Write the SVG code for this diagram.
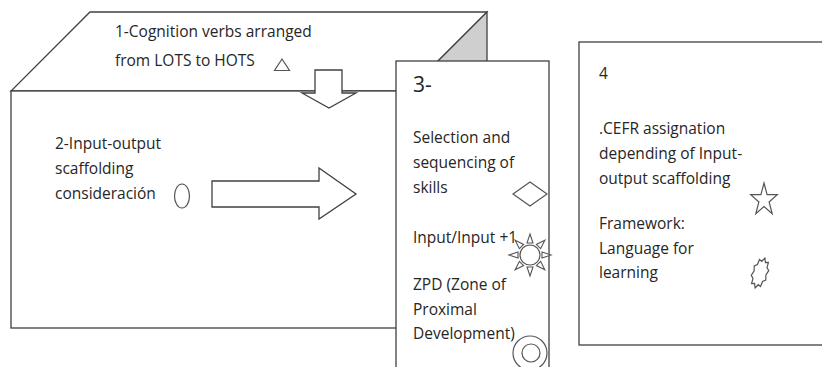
<svg xmlns="http://www.w3.org/2000/svg" width="822" height="367" viewBox="0 0 822 367">
<defs>
<style>
.ln{fill:#fff;stroke:#404040;stroke-width:1.3;stroke-linejoin:miter}
.ic{fill:#fff;stroke:#555;stroke-width:1.2}
.tx{font-family:"Open Sans","Liberation Sans",sans-serif;font-size:15.5px;fill:#262626}
.big{font-size:21px}
</style>
<polygon id="ray" points="-3,-12 3,-12 0,-21" fill="#fff" stroke="#555" stroke-width="1.1"/>
</defs>
<rect width="822" height="367" fill="#fff"/>
<g id="cube">
<polygon class="ln" points="90,12 487,12 408,91 11,91"/>
<polygon class="ln" points="487,12 487,249 408,328 408,91" style="fill:#cfcfcf"/>
<rect class="ln" x="11" y="91" width="397" height="237"/>
</g>
<g id="node1">
<text class="tx" x="115" y="37">1-Cognition verbs arranged</text>
<text class="tx" x="115" y="66">from LOTS to HOTS</text>
<polygon class="ic" points="282,59 289.5,70.5 274.5,70.5"/>
</g>
<g id="node2">
<text class="tx" x="55" y="149">2-Input-output</text>
<text class="tx" x="55" y="174">scaffolding</text>
<text class="tx" x="55" y="199">consideración</text>
<ellipse class="ic" cx="182" cy="196" rx="7.5" ry="12"/>
</g>
<g id="connectors">
<polygon class="ln" points="315,70 342,70 342,93 356,93 329,108 302,93 315,93"/>
<polygon class="ln" points="212,181 319,181 319,168 356,194 319,219 319,207 212,207"/>
</g>
<g id="node3">
<rect class="ln" x="396" y="61" width="153" height="320"/>
<text class="tx big" x="413" y="92">3-</text>
<text class="tx" x="413" y="143">Selection and</text>
<text class="tx" x="413" y="168">sequencing of</text>
<text class="tx" x="413" y="193">skills</text>
<polygon class="ic" points="513,194 530,182 547,194 530,206"/>
<text class="tx" x="413" y="243">Input/Input +1</text>
<g transform="translate(530,255)">
<use href="#ray"/>
<use href="#ray" transform="rotate(45)"/>
<use href="#ray" transform="rotate(90)"/>
<use href="#ray" transform="rotate(135)"/>
<use href="#ray" transform="rotate(180)"/>
<use href="#ray" transform="rotate(225)"/>
<use href="#ray" transform="rotate(270)"/>
<use href="#ray" transform="rotate(315)"/>
<circle class="ic" r="10"/>
</g>
<text class="tx" x="413" y="290">ZPD (Zone of</text>
<text class="tx" x="413" y="315">Proximal</text>
<text class="tx" x="413" y="339">Development)</text>
<circle class="ic" cx="530" cy="353" r="17"/>
<circle class="ic" cx="531" cy="353" r="9"/>
</g>
<g id="node4">
<rect class="ln" x="579" y="42" width="260" height="303"/>
<text class="tx" x="599" y="79">4</text>
<text class="tx" x="599" y="134">.CEFR assignation</text>
<text class="tx" x="599" y="159">depending of Input-</text>
<text class="tx" x="599" y="184">output scaffolding</text>
<polygon class="ic" points="764,183 767.1,194.7 777.3,194.7 769.1,202 772.2,213.8 764,206.5 755.8,213.8 758.9,202 750.7,194.7 760.9,194.7"/>
<text class="tx" x="599" y="229">Framework:</text>
<text class="tx" x="599" y="254">Language for</text>
<text class="tx" x="599" y="278">learning</text>
<polygon class="ic" transform="translate(760,273) rotate(18) scale(1,1.05)" points="0,-15 1.93,-11.13 4.7,-12.14 5.05,-6.88 7.61,-4.64 6.24,0 7.61,4.64 5.05,6.88 4.7,12.14 1.93,11.13 0,15 -1.93,11.13 -4.7,12.14 -5.05,6.88 -7.61,4.64 -6.24,0 -7.61,-4.64 -5.05,-6.88 -4.7,-12.14 -1.93,-11.13"/>
</g>
</svg>
